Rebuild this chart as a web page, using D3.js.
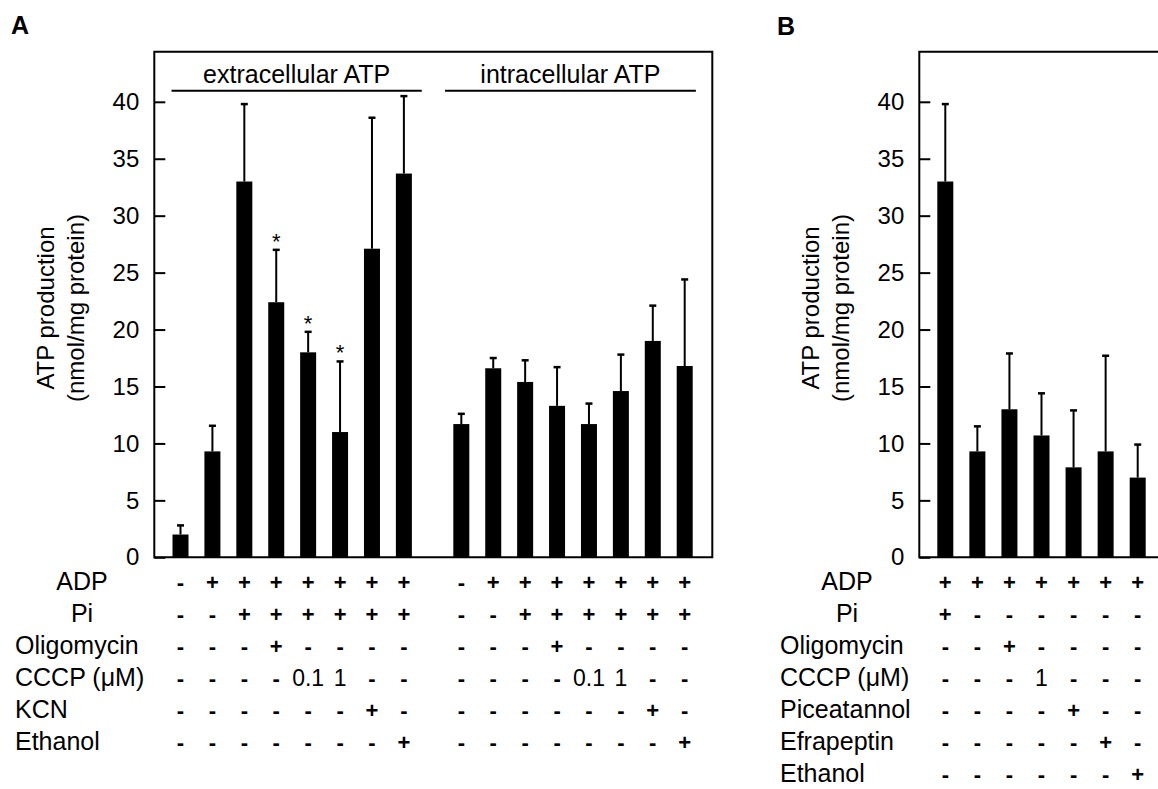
<!DOCTYPE html>
<html>
<head>
<meta charset="utf-8">
<script src="https://cdn.jsdelivr.net/npm/d3@7"></script>
<style>
  html, body { margin: 0; padding: 0; background: #fff; }
  svg { display: block; }
  text { font-family: "Liberation Sans", Arial, Helvetica, sans-serif; fill: #000; }
</style>
</head>
<body>
<svg id="chart" width="1158" height="789"></svg>
<script>
// ---------------- DATA ----------------
const yTicks = [0, 5, 10, 15, 20, 25, 30, 35, 40];

// Panel A
const groupNames = ["extracellular ATP", "intracellular ATP"];
const extraMean = [2.0, 9.3, 33.0, 22.4, 18.0, 11.0, 27.1, 33.7];
const extraErr  = [0.8, 2.25, 6.8, 4.6, 1.8, 6.2, 11.5, 6.8];
const extraSig  = [false, false, false, true, true, true, false, false];
const intraMean = [11.7, 16.6, 15.4, 13.3, 11.7, 14.6, 19.0, 16.8];
const intraErr  = [0.9, 0.9, 1.9, 3.4, 1.8, 3.2, 3.1, 7.6];

const rowLabelsA = ["ADP", "Pi", "Oligomycin", "CCCP (\u03bcM)", "KCN", "Ethanol"];
const rowsA = [
  ["-", "+", "+", "+", "+", "+", "+", "+"],
  ["-", "-", "+", "+", "+", "+", "+", "+"],
  ["-", "-", "-", "+", "-", "-", "-", "-"],
  ["-", "-", "-", "-", "0.1", "1", "-", "-"],
  ["-", "-", "-", "-", "-", "-", "+", "-"],
  ["-", "-", "-", "-", "-", "-", "-", "+"]
];

// Panel B
const meanB = [33.0, 9.3, 13.0, 10.7, 7.9, 9.3, 7.0];
const errB  = [6.8, 2.2, 4.9, 3.7, 5.0, 8.4, 2.9];
const rowLabelsB = ["ADP", "Pi", "Oligomycin", "CCCP (\u03bcM)", "Piceatannol", "Efrapeptin", "Ethanol"];
const rowsB = [
  ["+", "+", "+", "+", "+", "+", "+"],
  ["+", "-", "-", "-", "-", "-", "-"],
  ["-", "-", "+", "-", "-", "-", "-"],
  ["-", "-", "-", "1", "-", "-", "-"],
  ["-", "-", "-", "-", "+", "-", "-"],
  ["-", "-", "-", "-", "-", "+", "-"],
  ["-", "-", "-", "-", "-", "-", "+"]
];

const yTitle = ["ATP production", "(nmol/mg protein)"];

// ---------------- LAYOUT ----------------
const svg = d3.select("#chart");
const FONT = 24;
const y = d3.scaleLinear().domain([0, 44.4]).range([557.3, 51.7]);
const barW = 16;
const capW = 7;
const rowBase0 = 590, rowStep = 32;

function drawPanel(g, frame, xScale, bars, rowLabels, rows, labelLeft, labelCenter) {
  // frame
  g.append("path")
    .attr("d", `M${frame.left},${frame.bottom}V${frame.top}H${frame.right}V${frame.bottom}Z`)
    .attr("fill", "none").attr("stroke", "#000").attr("stroke-width", 2);

  // y axis (inward ticks)
  const ax = g.append("g").attr("transform", `translate(${frame.left},0)`)
    .call(d3.axisLeft(y).tickValues(yTicks).tickSize(-11).tickPadding(15).tickFormat(d3.format("d")));
  ax.select(".domain").remove();
  ax.selectAll(".tick line").attr("stroke", "#000").attr("stroke-width", 2);
  ax.selectAll(".tick text").attr("font-size", FONT).attr("font-family", "Liberation Sans, Arial, sans-serif").attr("fill", "#000");

  // y title
  const cy = 308;
  yTitle.forEach((t, i) => {
    g.append("text")
      .attr("transform", `translate(${frame.left - (i === 0 ? 100 : 70)},${cy}) rotate(-90)`)
      .attr("text-anchor", "middle").attr("font-size", 24).text(t);
  });

  // bars
  const bg = g.append("g");
  bars.forEach(b => {
    const cx = xScale(b.pos);
    bg.append("line")
      .attr("x1", cx).attr("x2", cx).attr("y1", y(b.mean)).attr("y2", y(b.mean + b.err))
      .attr("stroke", "#000").attr("stroke-width", 2);
    bg.append("line")
      .attr("x1", cx - capW / 2).attr("x2", cx + capW / 2).attr("y1", y(b.mean + b.err)).attr("y2", y(b.mean + b.err))
      .attr("stroke", "#000").attr("stroke-width", 2.5);
    bg.append("rect")
      .attr("x", cx - barW / 2).attr("y", y(b.mean)).attr("width", barW).attr("height", y(0) - y(b.mean))
      .attr("fill", "#000");
    if (b.sig) {
      bg.append("text").attr("x", cx).attr("y", y(b.mean + b.err) - 1)
        .attr("text-anchor", "middle").attr("font-size", 22).text("*");
    }
  });

  // table
  rowLabels.forEach((lab, r) => {
    const by = rowBase0 + r * rowStep;
    const centered = (r < 2);
    g.append("text")
      .attr("x", centered ? labelCenter : labelLeft).attr("y", by)
      .attr("text-anchor", centered ? "middle" : "start")
      .attr("font-size", 25).text(lab);
    rows[r].forEach((sym, i) => {
      const isSign = (sym === "+" || sym === "-");
      g.append("text")
        .attr("x", xScale(bars[i].pos)).attr("y", by)
        .attr("text-anchor", "middle")
        .attr("font-size", isSign ? 22 : 23)
        .attr("font-weight", isSign ? "bold" : "normal")
        .text(sym);
    });
  });
}

// ---- Panel A ----
const gA = svg.append("g");
const gapPos = 8.8;
const xA = d3.scaleLinear().domain([0, 15.8]).range([180.5, 684.7]);
const barsA = extraMean.map((m, i) => ({ pos: i, mean: m, err: extraErr[i], sig: extraSig[i] }))
  .concat(intraMean.map((m, i) => ({ pos: gapPos + i, mean: m, err: intraErr[i], sig: false })));
const rowsAfull = rowsA.map(r => r.concat(r));
drawPanel(gA, { left: 154.3, right: 712.3, top: 51.7, bottom: 557.3 }, xA, barsA, rowLabelsA, rowsAfull, 15, 82);

// group labels
const groupSpans = [[-0.28, 7.56], [gapPos - 0.51, gapPos + 7.35]];
groupNames.forEach((name, i) => {
  const x1 = xA(groupSpans[i][0]), x2 = xA(groupSpans[i][1]);
  gA.append("line").attr("x1", x1).attr("x2", x2).attr("y1", 90.7).attr("y2", 90.7)
    .attr("stroke", "#000").attr("stroke-width", 2);
  gA.append("text").attr("x", (x1 + x2) / 2).attr("y", 83.3).attr("text-anchor", "middle")
    .attr("font-size", 25).text(name);
});

gA.append("text").attr("x", 11).attr("y", 33.5).attr("font-size", 25).attr("font-weight", "bold").text("A");

// ---- Panel B ----
const gB = svg.append("g");
const xB = d3.scaleLinear().domain([0, 6]).range([945.3, 1137.7]);
const barsB = meanB.map((m, i) => ({ pos: i, mean: m, err: errB[i], sig: false }));
drawPanel(gB, { left: 919.3, right: 1175, top: 51.7, bottom: 557.3 }, xB, barsB, rowLabelsB, rowsB, 780, 847);

gB.append("text").attr("x", 777).attr("y", 35).attr("font-size", 25).attr("font-weight", "bold").text("B");
</script>
</body>
</html>
